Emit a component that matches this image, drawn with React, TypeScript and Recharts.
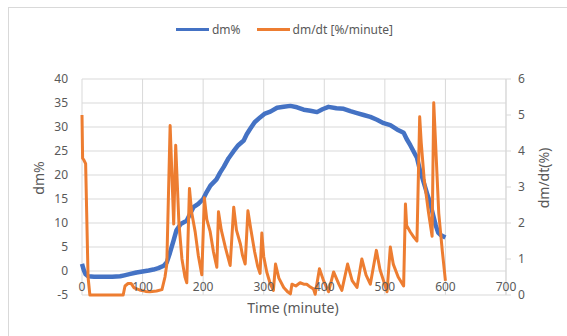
import { LineChart, Line, XAxis, YAxis, CartesianGrid, Legend, Label } from "recharts";

const dmTime = [
  0, 3, 6, 10, 20, 30, 40, 50, 63, 70, 80, 90, 100, 110, 118, 126, 135, 140, 145, 151, 156, 163, 173, 178, 184,
  192, 200, 206, 212, 222, 228, 234, 242, 250, 258, 267, 272, 278, 285, 294, 302, 311, 322, 333, 344, 355, 366,
  377, 388, 397, 407, 420, 432, 443, 454, 465, 476, 487, 498, 509, 520, 531, 536, 542, 553, 558, 564, 570, 575,
  580, 584, 588, 592, 600,
];
const dmValues = [
  1.5, 0.2, -0.7, -1.1, -1.2, -1.2, -1.2, -1.2, -1.1, -0.9, -0.6, -0.3, -0.1, 0.1, 0.3, 0.6, 1.1, 1.8, 3.7, 6.3,
  8.5, 9.8, 10.5, 11.8, 13.3, 14.0, 15.0, 16.5, 17.8, 19.1, 20.5, 21.7, 23.5, 24.9, 26.2, 27.2, 28.5, 29.7, 31.0,
  32.0, 32.8, 33.2, 34.0, 34.2, 34.4, 34.1, 33.6, 33.4, 33.1, 33.7, 34.2, 33.9, 33.8, 33.3, 32.9, 32.5, 32.1, 31.5,
  30.8, 30.4, 29.5, 28.8, 27.5, 26.2, 23.6, 21.0, 18.5, 16.0, 14.0, 11.5, 9.5, 8.0, 7.5, 7.0,
];

const rateTime = [
  0, 1, 3, 6, 10, 13, 30, 50, 68, 71, 76, 81, 86, 95, 105, 112, 123, 132, 137, 140, 145.5, 151.4, 154.7, 160, 165,
  170, 173, 177.4, 181, 186.8, 192, 197.8, 202, 206, 211.6, 217, 222.6, 225.3, 230, 237, 244.6, 250.5, 255, 261.6,
  265, 269.4, 273.9, 279, 285, 290, 294, 296.9, 300, 305, 311, 316, 319.5, 325, 333, 340, 344, 346.6, 353, 360, 366,
  371, 377, 382, 385, 392, 399, 407, 415.4, 424, 429, 438.5, 446, 454, 462, 469, 476, 486, 492, 498, 503.6, 509,
  514, 522, 531, 534, 536, 542, 548, 553, 557.5, 560, 565, 572, 578, 580.7, 589, 595, 600,
];
const rateValues = [
  5.0, 3.8, 3.75, 3.65, 0.5, 0, 0, 0, 0, 0.25, 0.32, 0.32, 0.2, 0.14, 0.1, 0.09, 0.11, 0.15, 0.5, 0.85, 4.71, 1.97,
  4.16, 2.0, 1.0, 0.5, 0.34, 2.96, 2.3, 1.76, 1.1, 0.56, 2.7, 2.1, 1.76, 1.2, 0.77, 2.31, 1.8, 1.3, 0.82, 2.44, 1.8,
  1.41, 1.1, 0.86, 2.34, 1.8, 1.2, 0.8, 0.6, 1.72, 1.07, 0.64, 0.3, 0.13, 0.86, 0.47, 0.21, 0.08, 0.03, 0.3, 0.25,
  0.34, 0.3, 0.3, 0.22, 0.17, 0.02, 0.73, 0.39, 0.09, 0.64, 0.3, 0.13, 0.86, 0.4, 0.21, 1.0, 0.55, 0.3, 1.24, 0.7,
  0.39, 0.09, 1.33, 0.85, 0.5, 0.25, 2.53, 1.93, 1.75, 1.6, 1.5, 4.95, 4.24, 3.2, 2.3, 1.63, 5.34, 2.27, 1.2, 0.39,
];

const timeTicks = [0, 100, 200, 300, 400, 500, 600, 700];
const dmTicks = [-5, 0, 5, 10, 15, 20, 25, 30, 35, 40];
const rateTicks = [0, 1, 2, 3, 4, 5, 6];

const dmData = dmTime.map((t, i) => ({ t, dm: dmValues[i] }));
const rateData = rateTime.map((t, i) => ({ t, rate: rateValues[i] }));

const FONT = "'Noto Sans', sans-serif";
const TEXT = "#595959";
const GRID = "#d9d9d9";
const BLUE = "#4472C4";
const ORANGE = "#ED7D31";

function TimeTick({ x, y, payload }: any) {
  return (
    <text x={x} y={y - 4} textAnchor="middle" fill={TEXT} fontSize={12} fontFamily={FONT}>
      {payload.value}
    </text>
  );
}

function LegendBox() {
  const item = (color: string, label: string) => (
    <div style={{ display: "flex", alignItems: "center", marginRight: 16 }}>
      <div style={{ width: 33, height: 3, background: color, marginRight: 3 }} />
      <span>{label}</span>
    </div>
  );
  return (
    <div
      style={{
        display: "flex",
        justifyContent: "center",
        paddingLeft: 18,
        fontFamily: FONT,
        fontSize: 12,
        color: TEXT,
      }}
    >
      {item(BLUE, "dm%")}
      {item(ORANGE, "dm/dt [%/minute]")}
    </div>
  );
}

export default function App() {
  return (
    <div style={{ position: "absolute", left: 0, top: 0, width: 567, height: 336, overflow: "hidden", background: "#fff" }}>
      <div
        style={{
          position: "absolute",
          left: 8,
          top: 7,
          width: 600,
          height: 400,
          borderLeft: `1px solid ${GRID}`,
          borderTop: `1px solid ${GRID}`,
        }}
      />
      <div style={{ position: "absolute", left: 0, top: 0 }}>
        <LineChart width={567} height={336} margin={{ top: 62, right: 21, bottom: 11, left: 42 }}>
          <CartesianGrid yAxisId="left" stroke={GRID} strokeWidth={1} />
          <XAxis
            xAxisId={0}
            dataKey="t"
            type="number"
            domain={[0, 700]}
            ticks={timeTicks}
            axisLine={false}
            tickLine={false}
            tickSize={0}
            tickMargin={0}
            height={30}
            tick={<TimeTick />}
          >
            <Label
              content={() => (
                <text x={293} y={313} textAnchor="middle" fill={TEXT} fontSize={14} fontFamily={FONT}>
                  Time (minute)
                </text>
              )}
            />
          </XAxis>
          <YAxis
            yAxisId="left"
            domain={[-5, 40]}
            ticks={dmTicks}
            width={40}
            axisLine={false}
            tickLine={false}
            tickMargin={8}
            tick={{ fill: TEXT, fontSize: 12, fontFamily: FONT }}
          >
            <Label
              content={() => (
                <text
                  x={38}
                  y={178}
                  transform="rotate(-90 38 178)"
                  textAnchor="middle"
                  dominantBaseline="central"
                  fill={TEXT}
                  fontSize={14}
                  fontFamily={FONT}
                >
                  dm%
                </text>
              )}
            />
          </YAxis>
          <YAxis
            yAxisId="right"
            orientation="right"
            domain={[0, 6]}
            ticks={rateTicks}
            width={40}
            axisLine={{ stroke: GRID }}
            tickLine={{ stroke: GRID }}
            tickSize={5}
            tickMargin={7}
            tick={{ fill: TEXT, fontSize: 12, fontFamily: FONT }}
          >
            <Label
              content={() => (
                <text
                  x={543}
                  y={178}
                  transform="rotate(-90 543 178)"
                  textAnchor="middle"
                  dominantBaseline="central"
                  fill={TEXT}
                  fontSize={14}
                  fontFamily={FONT}
                >
                  dm/dt(%)
                </text>
              )}
            />
          </YAxis>
          <Legend verticalAlign="top" wrapperStyle={{ top: 21, left: 0, width: 567 }} content={() => <LegendBox />} />
          <Line
            yAxisId="left"
            data={dmData}
            dataKey="dm"
            name="dm%"
            type="linear"
            stroke={BLUE}
            strokeWidth={4.5}
            strokeLinejoin="round"
            dot={false}
            isAnimationActive={false}
          />
          <Line
            yAxisId="right"
            data={rateData}
            dataKey="rate"
            name="dm/dt [%/minute]"
            type="linear"
            stroke={ORANGE}
            strokeWidth={3}
            strokeLinejoin="round"
            dot={false}
            isAnimationActive={false}
          />
        </LineChart>
      </div>
    </div>
  );
}
